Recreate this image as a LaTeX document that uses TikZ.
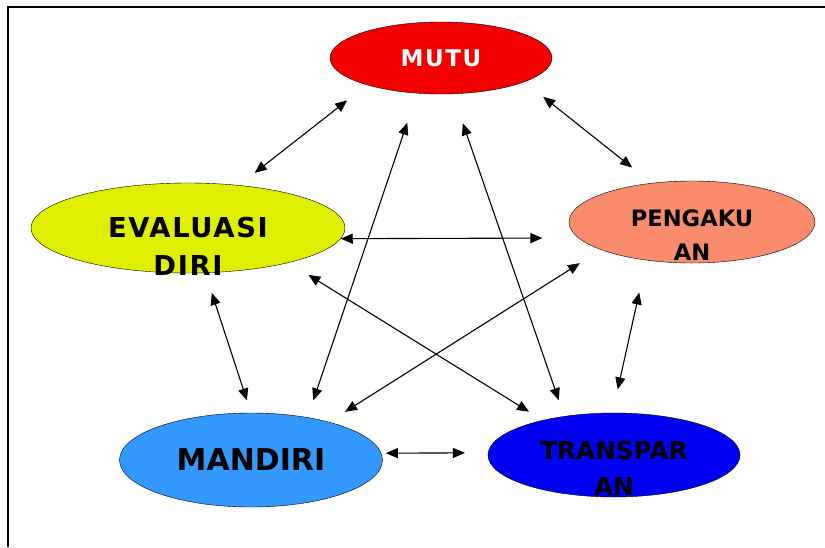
\documentclass[tikz,border=0pt]{standalone}
\usepackage{fontspec}
\setmainfont{DejaVu Sans}
\usetikzlibrary{shapes.geometric,arrows.meta}

\definecolor{mutured}{RGB}{245,0,0}
\definecolor{evalyellow}{RGB}{222,240,0}
\definecolor{pengsalmon}{RGB}{249,140,108}
\definecolor{mandblue}{RGB}{51,153,255}
\definecolor{transblue}{RGB}{0,0,240}

% two lines of text, the first one on the centre of the oval
\newcommand{\twoline}[3][0pt]{\raisebox{\dimexpr-0.36em+#1\relax}[0pt][0pt]{\begin{tabular}[t]{@{}c@{}}#2\\#3\end{tabular}}}

\begin{document}
\begin{tikzpicture}[x=1pt, y=-1pt,
    oval/.style={ellipse, draw, thin, inner sep=0pt},
    conn/.style={<->, >={Triangle[length=12pt,width=10pt]}, line width=1.1pt}]
  \useasboundingbox (0,0) rectangle (825,547);
  \draw[line width=1.5pt] (825,7) -- (8,7) -- (8,547);

  \node (mutu) at (441,58) [oval, fill=mutured, minimum width=222, minimum height=72,
    text=white, font=\fontsize{23}{25}\selectfont\bfseries\addfontfeature{LetterSpace=7}] {MUTU};
  \node (evaluasi) at (188,228) [oval, fill=evalyellow, minimum width=314, minimum height=90,
    font=\fontsize{27.4}{38}\selectfont\bfseries\addfontfeature{LetterSpace=6}] {\twoline{EVALUASI}{DIRI}};
  \node (pengakuan) at (692,222) [oval, fill=pengsalmon, minimum width=246, minimum height=82,
    font=\fontsize{22.6}{34}\selectfont\bfseries] {\twoline[4pt]{PENGAKU}{AN}};
  \node (mandiri) at (251,460) [oval, fill=mandblue, minimum width=263, minimum height=94,
    font=\fontsize{30}{36}\selectfont\bfseries] {MANDIRI};
  \node (transparan) at (614,455) [oval, fill=transblue, minimum width=252, minimum height=84,
    font=\fontsize{24.7}{36}\selectfont\bfseries] {\twoline[4pt]{TRANSPAR}{AN}};

  \foreach \source/\sa/\dest/\da/\sl/\dl in {mutu/200/evaluasi/40/25/20, mutu/344/pengakuan/136/24/25,
      mutu/236/mandiri/37/31/18, mutu/288/transparan/142/31/17, evaluasi/356/pengakuan/188/0/36,
      evaluasi/341/transparan/154/23/16, pengakuan/197/mandiri/26/25/19, evaluasi/291/mandiri/90/21/13,
      pengakuan/220/transparan/92/33/24, mandiri/3/transparan/179/4.5/23}
    \draw[conn, shorten <=\sl pt, shorten >=\dl pt] (\source.\sa) -- (\dest.\da);
\end{tikzpicture}
\end{document}
